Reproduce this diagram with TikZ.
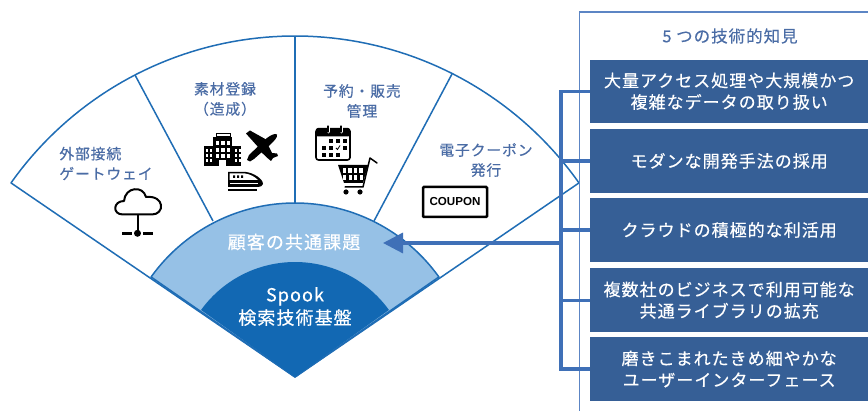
\documentclass[tikz,border=0pt]{standalone}
\usepackage{fontspec}
\usetikzlibrary{arrows.meta}
\setmainfont[LetterSpace=6,FakeBold=0.35]{Noto Sans CJK JP}
\newfontfamily\cpnfont{Liberation Sans}
\definecolor{fanblue}{HTML}{1F6DB5}
\definecolor{lightb}{HTML}{96C1E6}
\definecolor{darkb}{HTML}{1268B3}
\definecolor{boxb}{HTML}{365F96}
\definecolor{linkb}{HTML}{3F70B7}
\definecolor{labelb}{HTML}{4A6CA5}
\definecolor{framec}{HTML}{5C85C4}
\tikzset{
  fanline/.style={draw=fanblue,line width=1.5pt,line join=round},
  boxn/.style={fill=boxb,text=white,minimum width=278pt,minimum height=63.5pt,anchor=west,inner sep=0pt,align=center,font=\fontsize{17}{21.5}\selectfont},
  lab/.style={text=labelb,align=center,inner sep=0pt,font=\fontsize{14.8}{20}\selectfont},
  innertxt/.style={text=white,align=center,inner sep=0pt,font=\fontsize{18}{23}\selectfont},
  link/.style={draw=linkb,line width=3.3pt},
  ico/.style={draw=black,line width=1.6pt,line cap=round,line join=round},
  win/.style={fill=white,draw=none}
}
\begin{document}
\begin{tikzpicture}[x=1pt,y=-1pt]
\useasboundingbox (0,0) rectangle (868,411);
\coordinate (apex) at (295,377);
% fan
\draw[fanline,fill=white] (apex) -- plot[domain=144.7:35.3,samples=80] ({295+348*cos(\x)},{384-348*sin(\x)}) -- cycle;
\coordinate (s1o) at (135,75);  \coordinate (s1i) at (213,221);
\coordinate (s2o) at (295,36);  \coordinate (s2i) at (295,203);
\coordinate (s3o) at (452,74);  \coordinate (s3i) at (374,221);
\draw[fanline] (s1o) -- (s1i);
\draw[fanline] (s2o) -- (s2i);
\draw[fanline] (s3o) -- (s3i);
\draw[fanline,fill=lightb] (apex) -- plot[domain=144.4:35.6,samples=60] ({295+177*cos(\x)},{380-177*sin(\x)}) -- cycle;
\fill[darkb] (apex) -- plot[domain=144.1:35.9,samples=50] ({295+116*cos(\x)},{378-116*sin(\x)}) -- cycle;
% frame
\draw[draw=framec,line width=1.3pt] (868,12) -- (579.5,12) -- (579.5,411);
% boxes
\node[boxn] (b1) at (590,91.3) {大量アクセス処理や大規模かつ\\複雑なデータの取り扱い};
\node[boxn] (b2) at (590,161) {モダンな開発手法の採用};
\node[boxn] (b3) at (590,230) {クラウドの積極的な利活用};
\node[boxn] (b4) at (590,300.2) {複数社のビジネスで利用可能な\\共通ライブラリの拡充};
\node[boxn] (b5) at (590,369) {磨きこまれたきめ細やかな\\ユーザーインターフェース};
\node[text=labelb,inner sep=0pt,font=\fontsize{16.5}{20}\selectfont] (title) at (730,36) {5 つの技術的知見};
% links
\coordinate (trunk) at (561,243);
\coordinate (tip) at (383,243);
\draw[link] (b1.west) -- (trunk|-b1.west) -- (trunk|-b5.west) -- (b5.west);
\draw[link] (b2.west) -- (trunk|-b2.west);
\draw[link] (b3.west) -- (trunk|-b3.west);
\draw[link] (b4.west) -- (trunk|-b4.west);
\draw[link,-{Triangle[length=20pt,width=20pt]}] (trunk) -- (tip);
% labels
\node[lab,align=left] (l1) at (106,163.5) {外部接続\\ゲートウェイ};
\node[lab] (l2) at (225,99) {素材登録\\（造成）};
\node[lab] (l3) at (362,101) {予約・販売\\管理};
\node[lab] (l4) at (486,160) {電子クーポン\\発行};
\node[innertxt] (common) at (294,242) {顧客の共通課題};
\node[innertxt] (core) at (295,306.5) {Spook\\検索技術基盤};
% cloud icon
\draw[ico,line width=2pt] (123,214.5) .. controls (112,214.5) and (113,201) .. (124,201)
  .. controls (125,187) and (143,185) .. (146,197)
  .. controls (165,195) and (165,214.5) .. (152,214.5) -- cycle;
\draw[ico,line width=2pt,line cap=butt] (137.5,214.5) -- (137.5,233);
\draw[ico,line width=2.5pt,line cap=butt] (122,233.3) -- (132,233.3) (143,233.3) -- (153,233.3);
\fill (137.5,233.3) circle[radius=3.5pt];
% hotel icon
\fill (204,146) rectangle (241,166);
\fill (213,137) rectangle (232,166);
\draw[black,line width=1pt] (216,133.5) rectangle (230,137);
\foreach \gx in {215.5,221,226.5}{\foreach \gy in {141,148,154}{\fill[win] (\gx,\gy) rectangle ++(3.5,4.5);}}
\foreach \gx in {206,209.5,235,238.5}{\foreach \gy in {149,154,159}{\fill[win] (\gx,\gy) rectangle ++(2,3);}}
\fill[win] (219,160) rectangle (226,166);
% plane icon
\fill (277,134.5) .. controls (278,137) and (274,141) .. (271,144) -- (254,159) -- (250,161.5) -- (247,160) -- (249,155) -- (267,138) .. controls (271,135) and (275,133) .. (277,134.5) -- cycle;
\fill (246,133.5) -- (250,130.5) -- (267,140) -- (259,148) -- cycle;
\fill (259,150) -- (267,143) -- (272,153) -- (277,153.5) -- (278,156) -- (273,158) -- (271,161) -- (268,158.5) -- cycle;
% train icon
\fill (228,172) -- (246,172) .. controls (254,173) and (263,179) .. (263,184) .. controls (263,186) and (260,187) .. (258,187) -- (228,187) -- cycle;
\fill[win] (229.5,173.5) -- (245,173.5) .. controls (250,174) and (255,177) .. (258,180) -- (229.5,180) -- cycle;
\fill (233,175.5) rectangle ++(2,2.5) (237,175.5) rectangle ++(2,2.5) (241,175.5) rectangle ++(2,2.5);
\fill[win] (229.5,183) rectangle (258,184.5);
\fill (228,189) rectangle (257,191);
% calendar icon
\draw[ico,rounded corners=2.5pt] (316,129) rectangle (350,160);
\fill[rounded corners=2pt] (316,128) rectangle (350,136.5);
\draw[white,line width=3pt,line cap=round] (328,127) -- (328,132) (341,127) -- (341,132);
\draw[ico,line width=1.3pt] (328,126) -- (328,132) (341,126) -- (341,132);
\foreach \gx/\gy in {329/139,336/139,343/139,322/146,329/146,343/146,322/153,329/153,336/153}{\fill (\gx,\gy) rectangle ++(3.6,3.6);}
\draw[black,line width=.8pt] (336,148) -- (337.5,149.5) -- (340,145.5);
% cart icon
\draw[ico,line width=1.5pt] (377,163) -- (370,158) -- (363,187) -- (345,187);
\fill (338,165) -- (368,165) -- (363,183) -- (344,183) -- cycle;
\foreach \gx in {342.5,348,353.5,359}{\fill[win] (\gx,168) rectangle ++(3.6,5);\fill[win] (\gx+.8,175) rectangle ++(3,5);}
\fill (346,192) circle[radius=2.6pt] (360,192) circle[radius=2.6pt];
% coupon icon
\node[draw=black,line width=2.5pt,rounded corners=1pt,minimum width=64pt,minimum height=30pt,inner sep=0pt,font=\cpnfont\bfseries\fontsize{11.6}{14}\selectfont] (coupon) at (455,202) {COUPON};
\end{tikzpicture}
\end{document}
